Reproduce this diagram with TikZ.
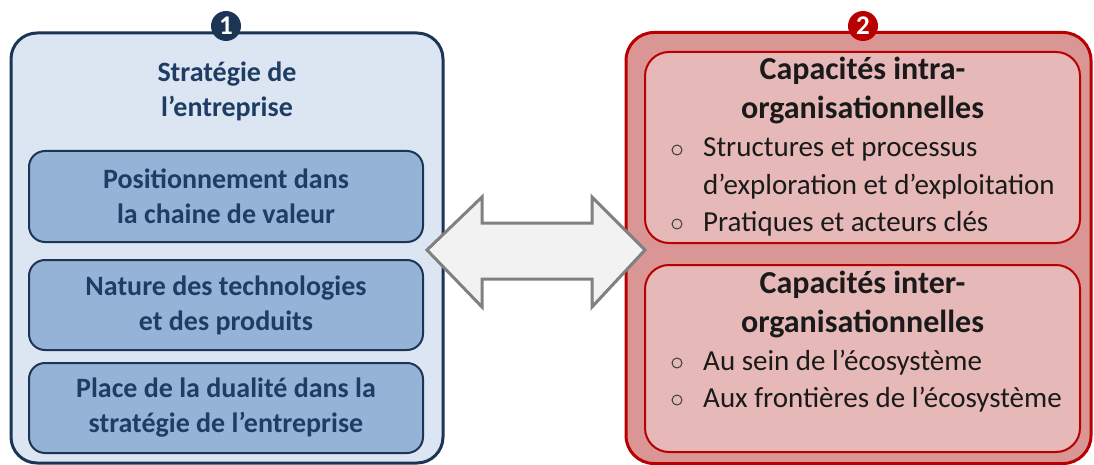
\documentclass[tikz,border=0pt]{standalone}
\usepackage{fontspec}
\setmainfont{Carlito}
\definecolor{lfill}{HTML}{DCE6F2}
\definecolor{lborder}{HTML}{1C3555}
\definecolor{ifill}{HTML}{95B3D7}
\definecolor{ltext}{HTML}{1F3C64}
\definecolor{rofill}{HTML}{D99694}
\definecolor{rifill}{HTML}{E6B9B8}
\definecolor{rborder}{HTML}{B80000}
\definecolor{afill}{HTML}{F2F2F2}
\definecolor{aborder}{HTML}{808080}
\definecolor{rtext}{HTML}{1A1A1A}
\tikzset{
  lout/.style={draw=lborder, fill=lfill, line width=3pt, rounded corners=26pt, inner sep=0pt},
  lin/.style={draw=lborder, fill=ifill, line width=2pt, rounded corners=16pt, inner sep=0pt, align=center,
     text=ltext, font=\fontsize{28}{35}\selectfont\bfseries},
  rout/.style={draw=rborder, fill=rofill, line width=3pt, rounded corners=28pt, inner sep=0pt},
  rin/.style={draw=rborder, fill=rifill, line width=2pt, rounded corners=24pt, inner sep=0pt},
  ltitle/.style={anchor=base, inner sep=0pt, text=ltext, font=\fontsize{28}{35}\selectfont\bfseries},
  rtitle/.style={anchor=base, inner sep=0pt, text=rtext, font=\fontsize{32}{39}\selectfont\bfseries},
  bl/.style={anchor=base west, inner sep=0pt, text=rtext, font=\fontsize{29}{36}\selectfont},
  bdot/.style={circle, draw=rtext!85, line width=1pt, minimum size=10pt, inner sep=0pt},
  numc/.style={circle, minimum size=30pt, inner sep=0pt, text=white, font=\fontsize{27}{27}\selectfont\bfseries},
  darrow/.style={draw=aborder, fill=afill, line width=3pt, line join=miter}
}
\begin{document}
\begin{tikzpicture}[x=1pt,y=-1pt]
\useasboundingbox (0,0) rectangle (1094,465);
% left outer box
\node[lout, minimum width=432pt, minimum height=430pt] (L) at (227,248) {};
\node[numc, fill=lborder] (n1) at (226,26) {1};
\node[ltitle] (lt1) at (227,82) {Stratégie de};
\node[ltitle] (lt2) at (227,117) {l’entreprise};
\node[lin, minimum width=394pt, minimum height=91pt] (L1) at (226,196.5) {Positionnement dans\\la chaine de valeur};
\node[lin, minimum width=394pt, minimum height=90pt] (L2) at (226,305) {Nature des technologies\\et des produits};
\node[lin, minimum width=394pt, minimum height=90pt] (L3) at (226,408) {Place de la dualité dans la\\stratégie de l’entreprise};
% right outer box
\node[rout, minimum width=465pt, minimum height=431pt] (R) at (858.5,248) {};
\node[numc, fill=rborder] (n2) at (863,26) {2};
\node[rin, minimum width=435pt, minimum height=191pt] (R1) at (862.5,147.5) {};
\node[rin, minimum width=435pt, minimum height=187pt] (R2) at (862.5,358.5) {};
% top inner text
\node[rtitle] (r1a) at (862.5,80) {Capacités intra-};
\node[rtitle] (r1b) at (862.5,119) {organisationnelles};
\node[bdot] (d1) at (677,150) {};
\node[bl] (b1) at (703,157) {Structures et processus};
\node[bl] (b2) at (703,194) {d’exploration et d’exploitation};
\node[bdot] (d3) at (677,224) {};
\node[bl] (b3) at (703,231) {Pratiques et acteurs clés};
% bottom inner text
\node[rtitle] (r2a) at (862.5,293) {Capacités inter-};
\node[rtitle] (r2b) at (862.5,332) {organisationnelles};
\node[bdot] (d4) at (677,363) {};
\node[bl] (b4) at (703,370) {Au sein de l’écosystème};
\node[bdot] (d5) at (677,400) {};
\node[bl] (b5) at (703,407) {Aux frontières de l’écosystème};
% double arrow between the two boxes
\coordinate (aL) at (427,250);
\coordinate (aR) at (645,250);
\draw[darrow] (aL) -- ++(55,-53) -- ++(0,26) -- ++(110,0) -- ++(0,-26) -- (aR)
  -- ++(-53,57) -- ++(0,-28) -- ++(-110,0) -- ++(0,28) -- cycle;
\end{tikzpicture}
\end{document}
